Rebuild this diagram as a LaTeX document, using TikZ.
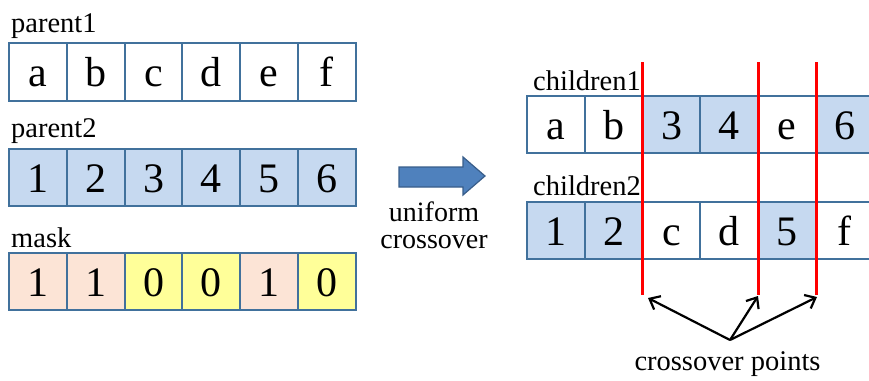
\documentclass[tikz,border=0pt]{standalone}
\usepackage{fontspec}
\setmainfont{Liberation Serif}
\usetikzlibrary{arrows.meta}
\definecolor{cellborder}{HTML}{41719C}
\definecolor{cellblue}{HTML}{C6D9F0}
\definecolor{cellpeach}{HTML}{FCE4D6}
\definecolor{cellyellow}{HTML}{FFFF99}
\definecolor{arrowfill}{HTML}{4F81BD}
\definecolor{arrowline}{HTML}{385D8A}
\begin{document}
\begin{tikzpicture}[x=1pt,y=-1pt,
  cell/.style={draw=cellborder, line width=2pt, minimum width=57.8pt, minimum height=57.5pt,
    inner sep=0pt, text height=30pt, text depth=1pt, font=\fontsize{42}{46}\selectfont},
  wcell/.style={cell, fill=white},
  bcell/.style={cell, fill=cellblue},
  pcell/.style={cell, fill=cellpeach},
  ycell/.style={cell, fill=cellyellow},
  lbl/.style={font=\fontsize{28.5}{32}\selectfont, inner sep=0pt},
  redline/.style={draw=red, line width=3pt},
  ptr/.style={draw=black, line width=2.2pt, -{Straight Barb[length=9pt,width=15pt,line width=2.2pt]}}
]
\useasboundingbox (0,0) rectangle (869,380);
\clip (0,0) rectangle (869,380);

% labels
\node[lbl, anchor=base west] (lp1) at (11,32) {parent1};
\node[lbl, anchor=base west] (lp2) at (11,137) {parent2};
\node[lbl, anchor=base west] (lm) at (11,247) {mask};
\node[lbl, anchor=base west] (lc1) at (533,90) {children1};
\node[lbl, anchor=base west] (lc2) at (533,195) {children2};

% parent1
\foreach \t [count=\i from 0] in {a,b,c,d,e,f}
  \node[wcell] (p1-\i) at (37.9+57.8*\i,72) {\t};
% parent2
\foreach \t [count=\i from 0] in {1,2,3,4,5,6}
  \node[bcell] (p2-\i) at (37.9+57.8*\i,177.5) {\t};
% mask
\foreach \t/\s [count=\i from 0] in {1/pcell,1/pcell,0/ycell,0/ycell,1/pcell,0/ycell}
  \node[\s] (m-\i) at (37.9+57.8*\i,281.5) {\t};
% children1
\foreach \t/\s [count=\i from 0] in {a/wcell,b/wcell,3/bcell,4/bcell,e/wcell,6/bcell}
  \node[\s] (c1-\i) at (555.9+57.8*\i,124.5) {\t};
% children2
\foreach \t/\s [count=\i from 0] in {1/bcell,2/bcell,c/wcell,d/wcell,5/bcell,f/wcell}
  \node[\s] (c2-\i) at (555.9+57.8*\i,230.5) {\t};

% block arrow
\draw[fill=arrowfill, draw=arrowline, line width=1.2pt]
  (399,167) -- (463,167) -- (463,157) -- (485,176) -- (463,195) -- (463,187) -- (399,187) -- cycle;
\node[lbl, anchor=base, align=center, font=\fontsize{28}{27}\selectfont] (uc) at (434,248) {uniform\\crossover};

% red crossover lines
\foreach \x [count=\k] in {642.6,758.2,816} {
  \coordinate (rt\k) at (\x,62);
  \coordinate (rb\k) at (\x,295);
  \draw[redline] (rt\k) -- (rb\k);
}

% pointer arrows
\node[lbl, anchor=base] (cp) at (727.5,370) {crossover points};
\coordinate (apex) at (730,340);
\coordinate (tip1) at (648,298);
\coordinate (tip2) at (758,296);
\coordinate (tip3) at (817,297);
\draw[ptr] (apex) -- (tip1);
\draw[ptr] (apex) -- (tip2);
\draw[ptr] (apex) -- (tip3);
\end{tikzpicture}
\end{document}
